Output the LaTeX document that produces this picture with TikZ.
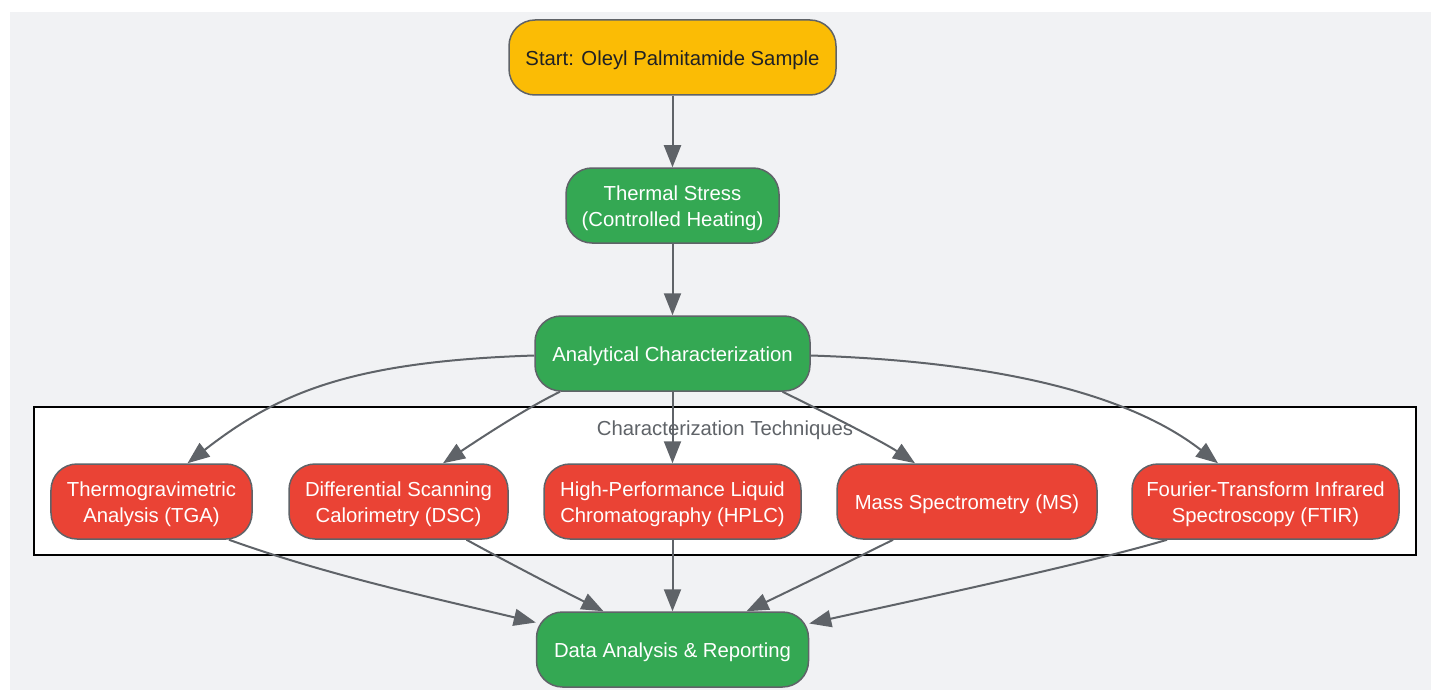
\documentclass[tikz,border=0pt]{standalone}
\usepackage{fontspec}
\setmainfont{Liberation Sans}
\usetikzlibrary{arrows.meta}
\definecolor{bggrey}{HTML}{F1F2F4}
\definecolor{gyellow}{HTML}{FBBC05}
\definecolor{ggreen}{HTML}{34A853}
\definecolor{gred}{HTML}{EA4335}
\definecolor{gstroke}{HTML}{5F6368}
\definecolor{gtext}{HTML}{202124}
\newcommand{\lowr}[1]{\raisebox{-3bp}[\height][\depth]{\begin{tabular}{@{}c@{}}#1\end{tabular}}}
\begin{document}
\begin{tikzpicture}[x=1bp,y=-1bp,
  box/.style={draw=gstroke, line width=1.5bp, rounded corners=26bp, minimum height=75bp, inner sep=0pt, align=center, font=\fontsize{20.3bp}{25.5bp}\selectfont, text=white},
  ybox/.style={box, fill=gyellow, text=gtext},
  gbox/.style={box, fill=ggreen},
  rbox/.style={box, fill=gred},
  conn/.style={draw=gstroke, line width=2bp, -{Triangle[length=22bp,width=17bp]}},
  clusterbox/.style={draw=black, line width=1.5bp, fill=white, inner sep=0pt},
  clusterlabel/.style={text=gstroke, inner sep=0pt, font=\fontsize{20.3bp}{25.5bp}\selectfont}
]
\useasboundingbox (0,0) rectangle (1431,690);
\fill[white] (0,0) rectangle (1431,690);
\fill[bggrey] (10,12) rectangle (1431,690);

\node[clusterbox, minimum width=1382bp, minimum height=148bp] (cluster) at (725,481) {};
\node[clusterlabel] (clab) at (725,430) {Characterization Techniques};

\node[ybox, minimum width=327bp] (start) at (672.5,57.5) {\lowr{Start: Oleyl Palmitamide Sample}};
\node[gbox, minimum width=213bp] (thermal) at (672.5,205.5) {\lowr{Thermal Stress\\(Controlled Heating)}};
\node[gbox, minimum width=275bp] (ana) at (672.5,353.5) {\lowr{Analytical Characterization}};
\node[rbox, minimum width=201bp] (tga) at (151.5,501.5) {\lowr{Thermogravimetric\\Analysis (TGA)}};
\node[rbox, minimum width=219bp] (dsc) at (398.5,501.5) {\lowr{Differential Scanning\\Calorimetry (DSC)}};
\node[rbox, minimum width=257bp] (hplc) at (672.5,501.5) {\lowr{High-Performance Liquid\\Chromatography (HPLC)}};
\node[rbox, minimum width=260bp] (ms) at (967,501.5) {\lowr{Mass Spectrometry (MS)}};
\node[rbox, minimum width=267bp] (ftir) at (1265.5,501.5) {\lowr{Fourier-Transform Infrared\\Spectroscopy (FTIR)}};
\node[gbox, minimum width=272bp] (data) at (672.5,649.5) {\lowr{Data Analysis \& Reporting}};

\draw[conn] (start.south) -- (thermal.north);
\draw[conn] (thermal.south) -- (ana.north);

\draw[conn] ([yshift=-2bp]ana.west) .. controls +(-185,6) and +(90,-70) .. ([xshift=36bp]tga.north);
\draw[conn] ([xshift=-112.5bp]ana.south) .. controls +(-36,17.5) and +(33,-22) .. ([xshift=44.5bp]dsc.north);
\draw[conn] (ana.south) -- (hplc.north);
\draw[conn] ([xshift=110bp]ana.south) .. controls +(36,17.5) and +(-33,-22) .. ([xshift=-52bp]ms.north);
\draw[conn] ([yshift=-2bp]ana.east) .. controls +(185,6) and +(-90,-70) .. ([xshift=-47.5bp]ftir.north);

\draw[conn] ([xshift=77.5bp]tga.south) .. controls +(100,36) and +(-100,-24) .. ([yshift=27bp]data.west);
\draw[conn] ([xshift=68bp]dsc.south) .. controls +(40,22) and +(-40,-20) .. ([xshift=-69bp]data.north);
\draw[conn] (hplc.south) -- (data.north);
\draw[conn] ([xshift=-74bp]ms.south) .. controls +(-40,20) and +(40,-19) .. ([xshift=74bp]data.north);
\draw[conn] ([xshift=-98.5bp]ftir.south) .. controls +(-80,24) and +(90,-20) .. ([yshift=26bp]data.east);
\end{tikzpicture}
\end{document}
